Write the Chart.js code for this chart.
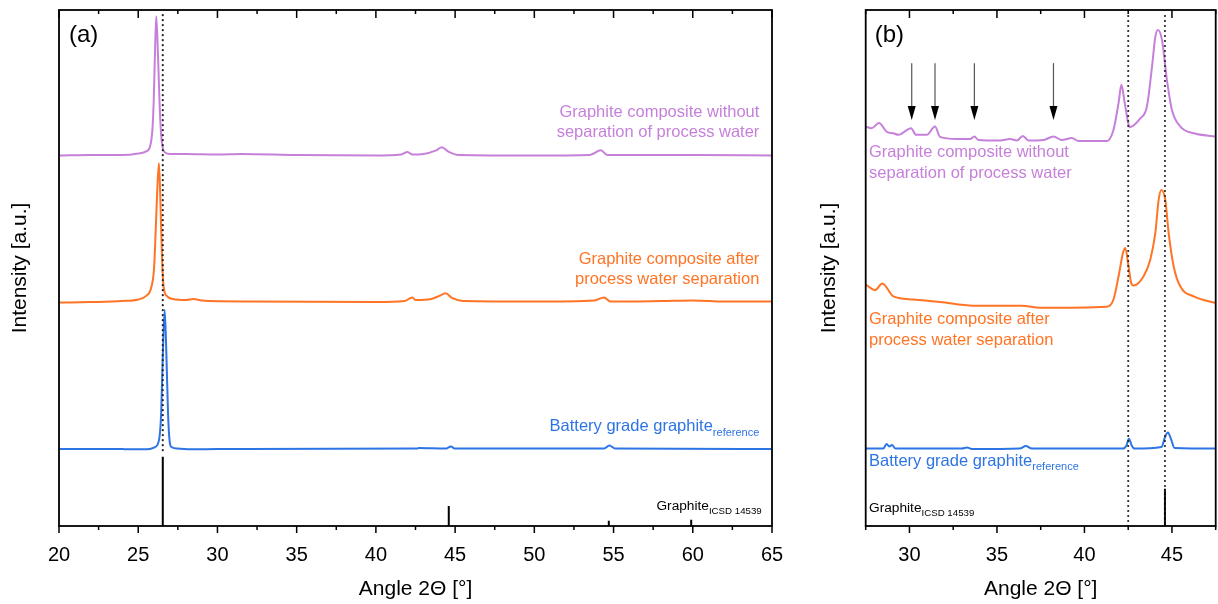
<!DOCTYPE html>
<html>
<head>
<meta charset="utf-8">
<script src="https://cdn.jsdelivr.net/npm/chart.js@4.4.1/dist/chart.umd.min.js"></script>
<style>
  body { margin: 0; background: #fff; }
  #wrap { position: relative; width: 1218px; height: 604px; }
  canvas { position: absolute; top: 0; }
  #chartA { left: 0; }
  #chartB { left: 800px; }
</style>
</head>
<body>
<div id="wrap">
  <canvas id="chartA" width="800" height="604"></canvas>
  <canvas id="chartB" width="418" height="604"></canvas>
</div>
<script>
// ---- panel (a): 20-65 deg, stacked intensities (a.u., offset included) ----
const purpleA_x = [20, 22, 24, 25, 25.5, 25.75, 25.9, 25.98, 26.06, 26.14, 26.24, 26.34, 26.44, 26.55, 26.7, 27, 28, 30, 31.5, 35, 40, 41.6, 42.0, 42.3, 43.0, 43.8, 44.15, 44.6, 45.2, 50, 53.5, 54.2, 54.6, 60, 65];
const purpleA_y = [71.8, 71.9, 71.9, 72.2, 72.6, 73.6, 77.0, 82.6, 92, 98.8, 92, 82.6, 76, 73.2, 72.4, 72.1, 72.1, 72.0, 72.1, 71.9, 71.8, 72.0, 72.5, 72.0, 72.1, 72.8, 73.4, 72.5, 71.9, 71.8, 71.9, 72.8, 71.9, 71.9, 71.8];

const orangeA_x = [20, 22, 24, 25, 25.5, 25.8, 26.0, 26.1, 26.2, 26.31, 26.4, 26.5, 26.6, 26.8, 27.2, 28.0, 28.5, 29, 32, 40, 41.8, 42.3, 42.5, 43.5, 44.0, 44.4, 44.8, 45.5, 50, 53.8, 54.4, 54.8, 58, 60, 62, 65];
const orangeA_y = [43.3, 43.4, 43.6, 43.9, 44.6, 46.0, 50, 57, 65, 70.3, 63, 52, 46.5, 44.6, 44.0, 43.8, 44.0, 43.7, 43.5, 43.4, 43.6, 44.3, 43.8, 44.0, 44.6, 45.1, 44.2, 43.6, 43.5, 43.7, 44.3, 43.5, 43.6, 43.7, 43.5, 43.5];

const blueA_x = [20, 24, 24.3, 25.5, 26.0, 26.3, 26.45, 26.55, 26.67, 26.78, 26.88, 26.98, 27.1, 27.5, 28.5, 30, 42.6, 42.7, 44.4, 44.73, 45.0, 54.4, 54.74, 55.1, 65];
const blueA_y = [14.9, 14.9, 14.85, 14.85, 15.2, 16.5, 22, 33, 41.9, 33, 22, 16.5, 15.3, 15.0, 14.85, 14.9, 15.0, 15.1, 15.0, 15.4, 15.0, 15.0, 15.6, 15.0, 14.9];

const sticksA_pos = [26.55, 44.6, 54.7, 59.9];
const sticksA_h = [13.4, 3.9, 1.0, 1.2];
const dottedA_pos = [26.55];

// ---- panel (b): 27.5-47.5 deg zoom ----
const purpleB_x = [27.5, 27.84, 28.26, 28.7, 29.08, 29.37, 30.09, 30.38, 30.99, 31.46, 31.75, 32.7, 33.47, 33.71, 33.94, 35.18, 35.75, 36.14, 36.48, 36.8, 37.66, 38.23, 38.71, 39.28, 39.66, 41.29, 41.66, 41.95, 42.11, 42.3, 42.5, 42.58, 43.19, 43.57, 43.86, 44.05, 44.2, 44.43, 44.71, 45.0, 45.48, 46.25, 47.5];
const purpleB_y = [77.4, 77.1, 78.1, 76.4, 76.1, 75.8, 77.1, 75.8, 75.8, 77.4, 75.4, 75.0, 75.0, 75.5, 74.8, 74.7, 75.0, 74.7, 75.6, 74.7, 74.8, 75.5, 74.8, 75.2, 74.6, 74.6, 76.8, 82.0, 85.5, 82.0, 78.1, 77.3, 79.0, 81.3, 89.0, 94.8, 96.1, 94.2, 86.5, 80.6, 77.4, 76.1, 75.5];

const orangeB_x = [27.5, 28.03, 28.45, 29.08, 30.22, 31.75, 33.66, 36.42, 37.47, 41.29, 41.66, 41.95, 42.2, 42.33, 42.52, 42.67, 42.81, 43.38, 43.76, 44.05, 44.24, 44.39, 44.62, 44.81, 45.1, 45.48, 46.24, 47.5];
const orangeB_y = [46.8, 45.7, 47.0, 44.5, 43.9, 43.4, 42.7, 42.7, 42.3, 42.5, 43.9, 48.4, 52.9, 53.9, 50.3, 47.1, 46.6, 48.4, 51.6, 56.8, 63.2, 65.1, 63.2, 56.8, 50.3, 46.4, 44.5, 43.2];

const blueB_x = [27.5, 28.5, 28.7, 28.85, 29.0, 29.2, 33.0, 33.3, 33.6, 36.3, 36.65, 37.0, 42.2, 42.4, 42.54, 42.7, 42.85, 44.4, 44.6, 44.77, 44.95, 45.15, 47.5];
const blueB_y = [15.0, 15.0, 15.9, 15.4, 15.7, 15.0, 15.0, 15.2, 14.9, 15.0, 15.5, 15.0, 15.0, 15.6, 16.9, 15.6, 15.0, 15.3, 17.2, 18.1, 16.8, 15.1, 15.0];

const sticksB_pos = [44.6];
const sticksB_h = [7.2];
const dottedB_pos = [42.5, 44.6];
const arrowsB_pos = [30.13, 31.46, 33.71, 38.23];

const PURPLE = '#C680DA';
const ORANGE = '#FF7425';
const BLUE = '#2D74E4';
const FAMILY = "'Liberation Sans', Arial, Helvetica, sans-serif";

Chart.defaults.font.family = FAMILY;

const labelsA = [
  { text: 'Graphite composite without', x: 64.2, y: 80.2, align: 'right', color: PURPLE, size: 16.5 },
  { text: 'separation of process water', x: 64.2, y: 76.2, align: 'right', color: PURPLE, size: 16.5 },
  { text: 'Graphite composite after', x: 64.2, y: 51.6, align: 'right', color: ORANGE, size: 16.5 },
  { text: 'process water separation', x: 64.2, y: 47.7, align: 'right', color: ORANGE, size: 16.5 },
  { text: 'Battery grade graphite', sub: 'reference', x: 64.2, y: 19.2, align: 'right', color: BLUE, size: 16.5, subSize: 11, subDy: 6 },
  { text: 'Graphite', sub: 'ICSD 14539', x: 64.35, y: 3.9, align: 'right', color: '#000', size: 13.7, subSize: 9.7, subDy: 5 }
];
const labelsB = [
  { text: 'Graphite composite without', x: 27.69, y: 72.3, align: 'left', color: PURPLE, size: 16.5 },
  { text: 'separation of process water', x: 27.69, y: 68.4, align: 'left', color: PURPLE, size: 16.5 },
  { text: 'Graphite composite after', x: 27.69, y: 40.0, align: 'left', color: ORANGE, size: 16.5 },
  { text: 'process water separation', x: 27.69, y: 35.9, align: 'left', color: ORANGE, size: 16.5 },
  { text: 'Battery grade graphite', sub: 'reference', x: 27.69, y: 12.6, align: 'left', color: BLUE, size: 16.5, subSize: 11, subDy: 6 },
  { text: 'Graphite', sub: 'ICSD 14539', x: 27.69, y: 3.4, align: 'left', color: '#000', size: 13.7, subSize: 9.7, subDy: 5 }
];

function pts(xs, ys) {
  return xs.map((x, i) => ({ x: x, y: ys[i] }));
}
function stickPts(pos, h) {
  const out = [];
  pos.forEach((p, i) => { out.push({ x: p, y: 0 }, { x: p, y: h[i] }, { x: p, y: null }); });
  return out;
}
function dottedPts(pos, y0, y1) {
  const out = [];
  pos.forEach(p => { out.push({ x: p, y: y0 }, { x: p, y: y1 }, { x: p, y: null }); });
  return out;
}

function spectrum(data, color) {
  return { data: data, borderColor: color, borderWidth: 2, pointRadius: 0, cubicInterpolationMode: 'monotone', fill: false };
}
function straight(data, color, width, dash) {
  return { data: data, borderColor: color, borderWidth: width, pointRadius: 0, tension: 0, spanGaps: false,
    borderDash: dash || [], borderCapStyle: dash ? 'round' : 'butt', fill: false };
}

const decorPlugin = {
  id: 'decor',
  afterDraw(chart, args, opts) {
    const { ctx, chartArea: a, scales: { x, y } } = chart;
    ctx.save();
    ctx.strokeStyle = '#000';
    ctx.lineWidth = 1.8;
    ctx.strokeRect(a.left, a.top, a.right - a.left, a.bottom - a.top);

    ctx.lineWidth = 1.5;
    x.ticks.forEach(t => {
      const px = x.getPixelForValue(t.value);
      const major = Math.abs(t.value / 5 - Math.round(t.value / 5)) < 1e-6;
      ctx.beginPath();
      ctx.moveTo(px, a.bottom); ctx.lineTo(px, a.bottom + (major ? 7 : 4));
      ctx.moveTo(px, a.top); ctx.lineTo(px, a.top + (major ? 8 : 4));
      ctx.stroke();
    });

    // arrows pointing at impurity reflexes
    (opts.arrows || []).forEach(v => {
      const px = x.getPixelForValue(v);
      const yt = y.getPixelForValue(89.7), yb = y.getPixelForValue(78.7);
      ctx.strokeStyle = '#555'; ctx.lineWidth = 1.2;
      ctx.beginPath(); ctx.moveTo(px, yt); ctx.lineTo(px, yb - 10); ctx.stroke();
      ctx.fillStyle = '#000';
      ctx.beginPath(); ctx.moveTo(px - 4, yb - 14); ctx.lineTo(px + 4, yb - 14); ctx.lineTo(px, yb); ctx.closePath(); ctx.fill();
    });

    ctx.textBaseline = 'middle';
    (opts.labels || []).forEach(l => {
      const px = x.getPixelForValue(l.x), py = y.getPixelForValue(l.y);
      ctx.font = l.size + 'px ' + FAMILY;
      const w = ctx.measureText(l.text).width;
      let sw = 0;
      if (l.sub) { ctx.font = l.subSize + 'px ' + FAMILY; sw = ctx.measureText(l.sub).width; }
      const x0 = l.align === 'right' ? px - w - sw : px;
      ctx.fillStyle = l.color;
      ctx.font = l.size + 'px ' + FAMILY;
      ctx.fillText(l.text, x0, py);
      if (l.sub) {
        ctx.font = l.subSize + 'px ' + FAMILY;
        ctx.fillText(l.sub, x0 + w, py + l.subDy);
      }
    });

    ctx.fillStyle = '#000';
    ctx.font = '24px ' + FAMILY;
    ctx.fillText(opts.tag, a.left + opts.tagDx, a.top + 25);
    ctx.restore();
  }
};

function makeOptions(min, max, yWidth, yTitlePad, padRight, decor) {
  return {
    responsive: false,
    animation: false,
    layout: { padding: { top: 10, right: padRight, left: 0, bottom: 0 } },
    plugins: { legend: { display: false }, tooltip: { enabled: false }, decor: decor },
    scales: {
      x: {
        type: 'linear', min: min, max: max,
        ticks: {
          stepSize: 2.5, autoSkip: false, maxRotation: 0, padding: 17, color: '#000', font: { size: 20 },
          callback: v => (Math.abs(v / 5 - Math.round(v / 5)) < 1e-6 ? String(v) : '')
        },
        grid: { display: false, drawTicks: false },
        border: { display: false },
        title: { display: true, text: 'Angle 2\u0398 [\u00b0]', color: '#000', font: { size: 21 }, padding: { top: 0, bottom: 2 } },
        afterFit: s => { s.height = 78; s.paddingLeft = 0; s.paddingRight = 0; }
      },
      y: {
        min: 0, max: 100,
        ticks: { display: false },
        grid: { display: false, drawTicks: false },
        border: { display: false },
        title: { display: true, text: 'Intensity [a.u.]', color: '#000', font: { size: 21 }, padding: { top: yTitlePad, bottom: 0 } },
        afterFit: s => { s.width = yWidth; s.paddingTop = 0; s.paddingBottom = 0; }
      }
    }
  };
}

new Chart(document.getElementById('chartA'), {
  type: 'line',
  data: {
    datasets: [
      straight(dottedPts(dottedA_pos, 14.7, 99.5), '#222', 2.2, [0, 5]),
      straight(stickPts(sticksA_pos, sticksA_h), '#000', 2),
      spectrum(pts(purpleA_x, purpleA_y), PURPLE),
      spectrum(pts(orangeA_x, orangeA_y), ORANGE),
      spectrum(pts(blueA_x, blueA_y), BLUE)
    ]
  },
  options: makeOptions(20, 65, 59, 8, 28, { labels: labelsA, tag: '(a)', tagDx: 10 }),
  plugins: [decorPlugin]
});

new Chart(document.getElementById('chartB'), {
  type: 'line',
  data: {
    datasets: [
      straight(dottedPts(dottedB_pos, 0, 99.5), '#222', 2.2, [0, 5]),
      straight(stickPts(sticksB_pos, sticksB_h), '#000', 2),
      spectrum(pts(purpleB_x, purpleB_y), PURPLE),
      spectrum(pts(orangeB_x, orangeB_y), ORANGE),
      spectrum(pts(blueB_x, blueB_y), BLUE)
    ]
  },
  options: makeOptions(27.5, 47.5, 65.7, 17, 2.3, { labels: labelsB, arrows: arrowsB_pos, tag: '(b)', tagDx: 9 }),
  plugins: [decorPlugin]
});
</script>
</body>
</html>
